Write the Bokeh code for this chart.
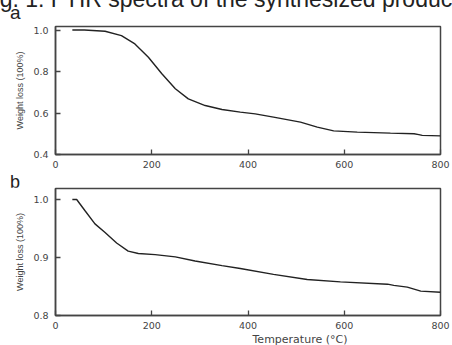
from bokeh.plotting import figure
from bokeh.models import FixedTicker, Range1d, Div
from bokeh.layouts import column
from bokeh.embed import file_html
from bokeh.resources import INLINE

# ---- data ----
temp_a = [35, 60, 103, 137, 165, 193, 221, 249, 276, 311, 346, 384, 415, 453,
          509, 544, 578, 627, 696, 745, 755, 762, 800]
weight_a = [1.0, 1.0, 0.994, 0.973, 0.933, 0.869, 0.789, 0.717, 0.668, 0.636,
            0.617, 0.604, 0.596, 0.580, 0.556, 0.532, 0.514, 0.508, 0.503,
            0.500, 0.496, 0.492, 0.490]

temp_b = [35, 44, 61, 82, 103, 127, 151, 172, 207, 249, 290, 346, 384, 453,
          523, 592, 690, 703, 731, 759, 800]
weight_b = [1.0, 1.0, 0.981, 0.958, 0.943, 0.925, 0.911, 0.907, 0.905, 0.901,
            0.894, 0.886, 0.881, 0.871, 0.862, 0.858, 0.854, 0.852, 0.849,
            0.842, 0.840]

x_ticks = [0, 200, 400, 600, 800]
x_tick_labels = ["0", "200", "400", "600", "800"]
y_ticks_a = [0.4, 0.6, 0.8, 1.0]
y_tick_labels_a = ["0.4", "0.6", "0.8", "1.0"]
y_ticks_b = [0.8, 0.9, 1.0]
y_tick_labels_b = ["0.8", "0.9", "1.0"]

caption = "Fig. 1: FTIR spectra of the synthesized products"
y_title = "Weight loss (100%)"
x_title = "Temperature (°C)"

AX = "#444444"
INK = "#222222"
W = 452


def text_strip(height, spans, overflow="hidden"):
    """An HTML strip holding absolutely placed texts."""
    inner = "".join(
        f'<span style="position:absolute;left:{l}px;top:{t}px;'
        f'{"width:%dpx;text-align:center;" % w if w else ""}'
        f"font-family:'{f}';font-size:{s}px;line-height:{s}px;"
        f'color:{c};white-space:nowrap;">{txt}</span>'
        for (txt, l, t, w, f, s, c) in spans)
    html = (f'<div style="position:relative;width:{W}px;height:{height}px;'
            f'overflow:{overflow};background:white;">{inner}</div>')
    return Div(text=html, width=W, height=height, margin=(0, 0, 0, 0))


def make_fig(height, yr, yticks, ylabels, top, bottom):
    p = figure(width=W, height=height, x_range=Range1d(0, 800),
               y_range=Range1d(*yr), output_backend="svg",
               toolbar_location=None, min_border_left=55,
               min_border_right=12, min_border_top=top,
               min_border_bottom=bottom)
    p.grid.visible = False
    p.background_fill_color = "white"
    p.border_fill_color = "white"
    p.outline_line_color = AX
    p.outline_line_width = 1.5
    for ax in (p.xaxis[0], p.yaxis[0]):
        ax.axis_line_color = AX
        ax.axis_line_width = 1.5
        ax.major_tick_line_color = AX
        ax.major_tick_line_width = 1.3
        ax.major_tick_in = 5
        ax.major_tick_out = 0
        ax.minor_tick_line_color = None
        ax.major_label_text_font = "DejaVu Sans"
        ax.major_label_text_font_size = "9.5px"
        ax.major_label_text_color = AX
    p.xaxis[0].major_label_standoff = 6
    p.yaxis[0].major_label_standoff = 7
    p.xaxis[0].ticker = FixedTicker(ticks=x_ticks)
    p.xaxis[0].major_label_overrides = dict(zip(x_ticks, x_tick_labels))
    p.yaxis[0].ticker = FixedTicker(ticks=yticks)
    p.yaxis[0].major_label_overrides = dict(zip(yticks, ylabels))
    p.yaxis[0].axis_label = y_title
    p.yaxis[0].axis_label_text_font = "Liberation Sans"
    p.yaxis[0].axis_label_text_font_size = "9px"
    p.yaxis[0].axis_label_text_font_style = "normal"
    p.yaxis[0].axis_label_text_color = AX
    p.yaxis[0].axis_label_standoff = 5
    return p


# top strip: caption (cropped at the top, as in the source) and letter "a"
s1 = text_strip(25, [
    (caption, -19.5, -12, 0, "Liberation Sans", 23, INK),
    ("a", 10, 2.5, 0, "Liberation Sans", 19, INK),
])

pa = make_fig(148, (0.4, 1.017), y_ticks_a, y_tick_labels_a, 1, 19)
pa.line(temp_a, weight_a, line_color=INK, line_width=1.4)

s2 = text_strip(14, [("b", 10, -0.5, 0, "Liberation Sans", 18, INK)],
                overflow="visible")

pb = make_fig(146, (0.8, 1.019), y_ticks_b, y_tick_labels_b, 1, 18)
pb.line(temp_b, weight_b, line_color=INK, line_width=1.4)

s3 = text_strip(12, [(x_title, 200, 1, 200, "DejaVu Sans", 11, AX)],
                overflow="visible")

layout = column(s1, pa, s2, pb, s3, spacing=0)

open("out.html", "w").write(file_html(layout, INLINE))
